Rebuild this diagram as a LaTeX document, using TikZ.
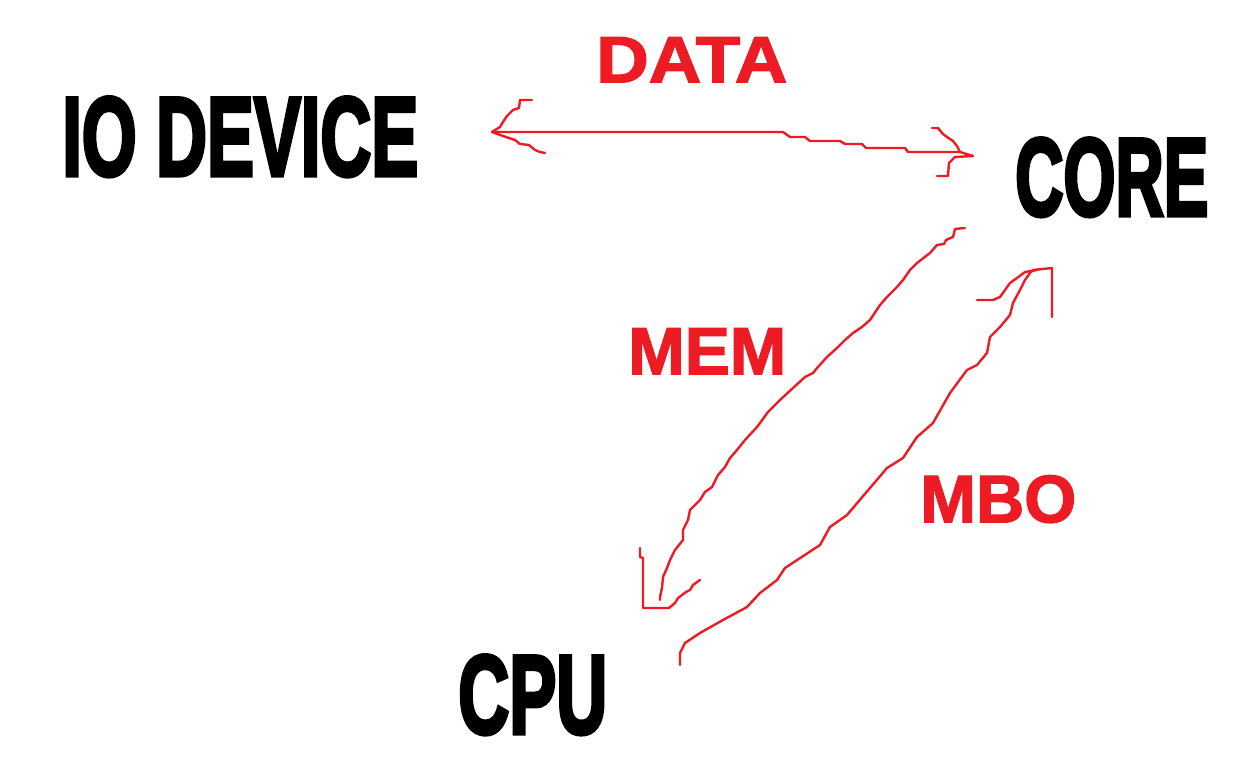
\documentclass[tikz,border=0pt]{standalone}
\usepackage{fontspec}
\setmainfont{Liberation Sans}
\newfontfamily\heavy[FakeBold=4]{Liberation Sans Bold}
\newfontfamily\redbold[FakeBold=2]{Liberation Sans Bold}
\usepackage{graphicx}
\newdimen\pxu \pxu=0.75pt
\definecolor{paintred}{HTML}{ED1C24}
\tikzset{
  bigtext/.style={anchor=north west, inner sep=0pt, text=black},
  redtext/.style={anchor=north west, inner sep=0pt, text=paintred},
  sketch/.style={draw=paintred, line width=1.8pt, line join=round, line cap=round},
}
\begin{document}
\begin{tikzpicture}[x=0.75pt, y=-0.75pt]
\path[use as bounding box, fill=white] (0,0) rectangle (1233,781);

% black labels
\node[bigtext] (io) at (62,97) {\resizebox{356\pxu}{78\pxu}{\heavy IO DEVICE}};
\node[bigtext] (core) at (1015,138) {\resizebox{193\pxu}{77\pxu}{\heavy CORE}};
\node[bigtext] (cpu) at (458,655) {\resizebox{149\pxu}{78\pxu}{\heavy CPU}};

% red labels
\node[redtext] (data) at (596,37) {\resizebox{191\pxu}{45\pxu}{\redbold DATA}};
\node[redtext] (mem) at (628,328) {\resizebox{158\pxu}{46\pxu}{\redbold MEM}};
\node[redtext] (mbo) at (920,475) {\resizebox{156\pxu}{47\pxu}{\redbold MBO}};

% endpoints of the hand-drawn connectors
\coordinate (dL) at (492,132);
\coordinate (dR) at (973,156);
\coordinate (mTop) at (965,228);
\coordinate (mBot) at (660,600);
\coordinate (bBot) at (680,665);
\coordinate (bTop) at (1033,270);

% DATA double arrow
\draw[sketch] (dL) -- (783,132) -- (790,137) -- (805,137) -- (810,141) -- (840,141) -- (845,144) -- (862,144) -- (866,148) -- (905,148) -- (908,152) -- (960,152) -- (dR);
\draw[sketch] (532,100) -- (520,100) -- (519,108) -- (513,110) -- (507,116) -- (503,122) -- (500,127) -- (dL);
\draw[sketch] (dL) -- (503,136) -- (515,140) -- (520,144) -- (529,145) -- (535,150) -- (540,152) -- (545,153);
\draw[sketch] (932,128) -- (938,128) -- (943,134) -- (947,137) -- (953,141) -- (957,146) -- (960,152);
\draw[sketch] (dR) -- (955,157) -- (949,163) -- (948,176) -- (937,176);

% MEM arrow (core to cpu)
\draw[sketch] (mTop) -- (955,229) -- (953,237) -- (946,240) -- (944,244) -- (937,245) -- (930,253) -- (917,263) -- (910,270) -- (903,280) -- (897,287) -- (887,297) -- (880,305) -- (870,320) -- (862,327) -- (853,333) -- (845,340) -- (838,347) -- (827,357) -- (818,367) -- (813,373) -- (805,377) -- (793,388) -- (780,400) -- (768,412) -- (760,423) -- (757,427) -- (745,440) -- (737,450) -- (730,458) -- (725,467) -- (718,475) -- (712,487) -- (705,492) -- (700,500) -- (690,510) -- (688,520) -- (683,530) -- (683,540) -- (675,550) -- (670,560) -- (667,568) -- (663,577) -- (662,588) -- (660,597) -- (mBot);
\draw[sketch] (640,548) -- (640,557) -- (643,558) -- (643,608) -- (669,608) -- (675,603) -- (678,598) -- (686,592) -- (690,590) -- (693,585) -- (700,580);

% MBO arrow (cpu to core)
\draw[sketch] (bBot) -- (680,653) -- (685,643) -- (700,633) -- (723,620) -- (747,607) -- (760,593) -- (777,580) -- (785,568) -- (820,545) -- (830,527) -- (847,515) -- (887,468) -- (903,458) -- (917,437) -- (933,423) -- (950,393) -- (967,370) -- (977,365) -- (987,353) -- (990,337) -- (1000,327) -- (1010,315) -- (1013,303) -- (1020,290) -- (1025,280) -- (1030,273) -- (bTop);
\draw[sketch] (977,300) -- (993,300) -- (1000,297) -- (1005,290) -- (1010,283) -- (1017,278) -- (1025,272) -- (1037,270);
\draw[sketch] (bTop) -- (1052,268) -- (1052,317);
\end{tikzpicture}
\end{document}
